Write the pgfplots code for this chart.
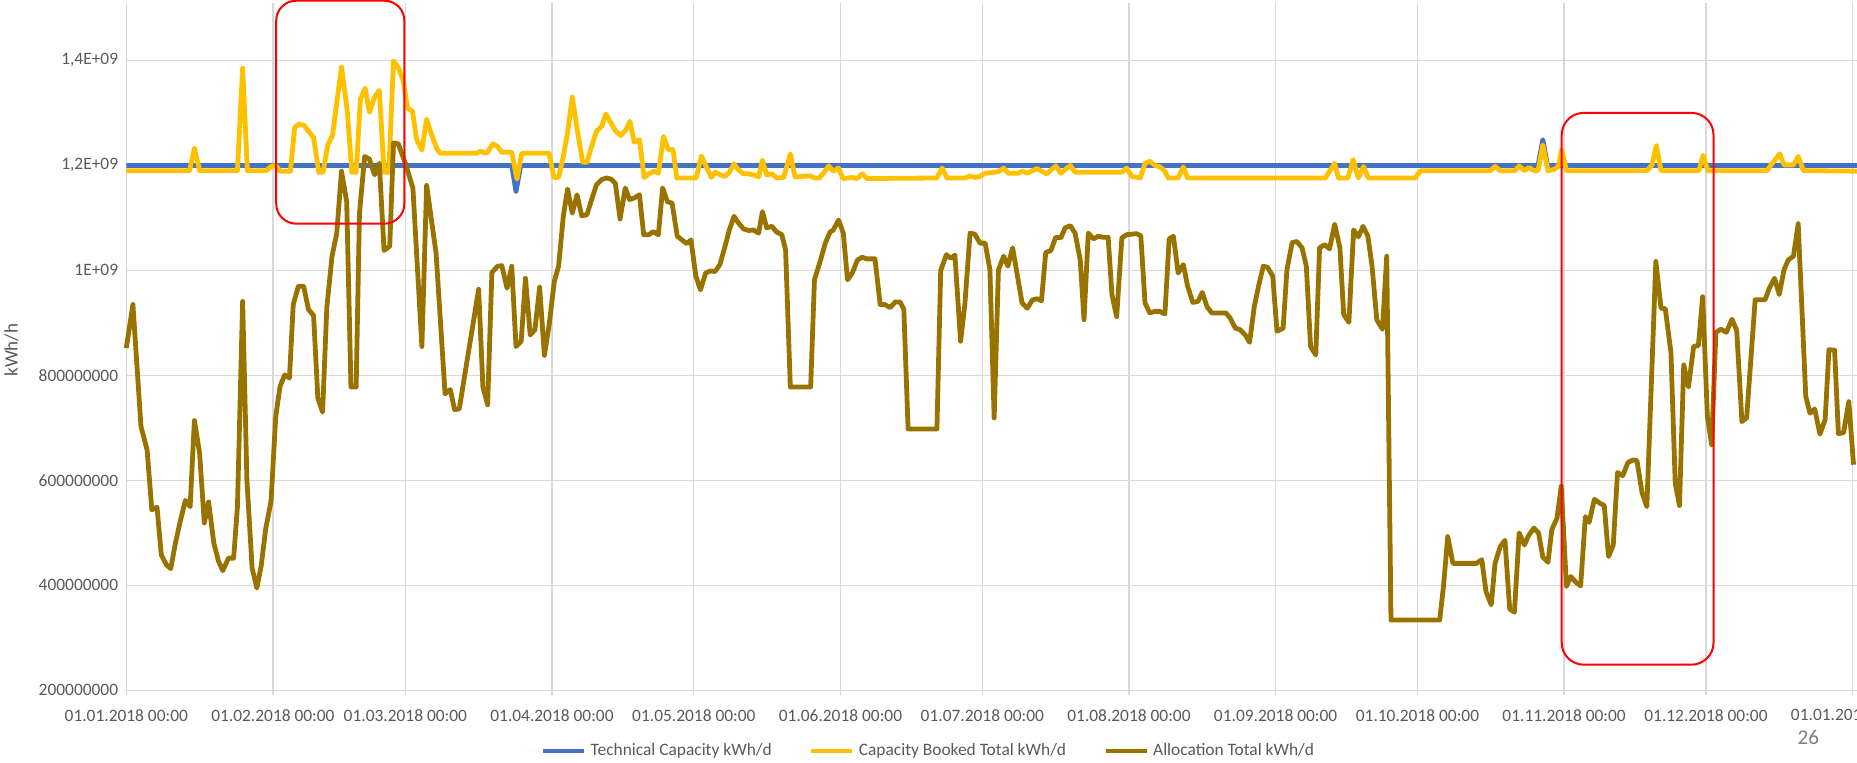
\documentclass[border=0pt]{standalone}
\usepackage{pgfplots}
\pgfplotsset{compat=1.18}
\usepackage{fontspec}
\setmainfont{Carlito}
\definecolor{techblue}{HTML}{4472C4}
\definecolor{bookgold}{HTML}{FFC000}
\definecolor{allocbrown}{HTML}{997300}
\definecolor{gridgray}{HTML}{D9D9D9}
\definecolor{textgray}{HTML}{595959}
\definecolor{pagegray}{HTML}{7F7F7F}

\begin{document}
\begin{tikzpicture}
\begin{axis}[
  at={(0,0)}, anchor=south west,
  scale only axis, width=865.5pt, height=341.25pt,
  xmin=0, xmax=366, ymin=200, ymax=1500,
  clip=false,
  axis line style={draw=none},
  grid=major,
  major grid style={gridgray, line width=0.6pt},
  xtick={0,31,59,90,120,151,181,212,243,273,304,334,365},
  xticklabels={01.01.2018 00:00,01.02.2018 00:00,01.03.2018 00:00,01.04.2018 00:00,01.05.2018 00:00,01.06.2018 00:00,01.07.2018 00:00,01.08.2018 00:00,01.09.2018 00:00,01.10.2018 00:00,01.11.2018 00:00,01.12.2018 00:00,01.01.2019 00:00},
  ytick={200,400,600,800,1000,1200,1400},
  yticklabels={200000000,400000000,600000000,800000000,1E+09,{1,2E+09},{1,4E+09}},
  /pgf/number format/assume math mode=true,
  tick label style={font=\fontsize{8.7}{10}\selectfont, text=textgray},
  xticklabel style={anchor=center, yshift=-9.9pt},
  yticklabel style={anchor=east, inner sep=0pt, xshift=-3.9pt},
  ytick style={draw=none},
  xtick style={gridgray, line width=0.6pt},
  xtick align=outside, major tick length=2.5pt,
  ylabel={kWh/h},
  ylabel style={at={(axis description cs:-0.0664,0.4985)}, anchor=center, font=\fontsize{9.5}{11}\selectfont, text=textgray},
  legend columns=3,
  legend style={draw=none, fill=none, at={(axis description cs:0.464,-0.0888)}, anchor=center,
    font=\fontsize{8.7}{10}\selectfont, text=textgray,
    /tikz/every even column/.append style={column sep=16.6pt}},
  legend image code/.code={\draw[#1] (0pt,0pt) -- (20.5pt,0pt);},
  every axis plot/.append style={line width=2.4pt, line join=round},
]
\addplot[techblue] coordinates {
(0,1200) (81.5,1200) (82.4,1150) (83.4,1200) (298.5,1200) (299.5,1249) (300.5,1200) (366,1200)
};
\addlegendentry{Technical Capacity kWh/d}
\addplot[bookgold] coordinates {
(0,1190) (13.4,1190) (14.4,1233) (15.5,1190) (23.5,1190) (24.6,1385) (25.6,1190) (29.6,1190)
(30.6,1198) (31.6,1200) (32.5,1189) (34.7,1189) (35.6,1272) (36.6,1279) (37.6,1276) (38.7,1263)
(39.6,1253) (40.7,1187) (41.6,1187) (42.6,1239) (43.6,1257) (44.5,1319) (45.5,1387) (46.7,1306)
(47.7,1187) (48.6,1187) (49.5,1326) (50.5,1347) (51.4,1301) (52.5,1330) (53.5,1343) (54.5,1187)
(55.5,1187) (56.5,1399) (57.6,1385) (58.5,1363) (59.5,1309) (60.5,1303) (61.4,1249) (62.5,1229)
(63.5,1288) (64.6,1257) (65.7,1231) (66.4,1223) (74.1,1223) (74.8,1227) (76.2,1223) (77.5,1241)
(78.5,1236) (79.4,1225) (81.5,1225) (82.6,1174) (83.6,1223) (89.4,1223) (90.4,1177) (91.4,1177)
(92.4,1217) (93.3,1262) (94.3,1330) (95.4,1265) (96.5,1206) (97.4,1206) (98.4,1236) (99.4,1265)
(100.5,1274) (101.4,1298) (102.4,1282) (103.5,1265) (104.5,1257) (105.6,1267) (106.5,1284)
(107.4,1244) (108.5,1249) (109.5,1177) (110.5,1184) (111.6,1189) (112.5,1185) (113.6,1255)
(114.6,1230) (115.6,1230) (116.4,1176) (120.5,1176) (121.6,1218) (122.6,1198) (123.7,1177)
(124.5,1187) (125.6,1182) (126.6,1179) (127.5,1187) (128.5,1203) (129.4,1192) (130.5,1184)
(131.6,1184) (132.6,1182) (133.7,1178) (134.5,1210) (135.4,1182) (136.5,1184) (137.5,1176)
(139,1177) (140.4,1222) (141.4,1178) (144.6,1180) (145.5,1176) (146.5,1176) (147.4,1185)
(148.5,1199) (149.5,1189) (150.6,1195) (151.5,1175) (153.5,1177) (154.5,1175) (155.6,1184)
(156.6,1175) (171.4,1176) (172.5,1195) (173.5,1176) (177.4,1176) (178.4,1180) (179.4,1177)
(180.5,1179) (181.6,1185) (183.7,1187) (184.6,1189) (185.5,1195) (186.5,1185) (188.6,1185)
(189.5,1189) (190.5,1185) (192.5,1194) (194.6,1184) (196.5,1199) (197.6,1185) (199.6,1200)
(200.6,1187) (210.5,1187) (211.5,1195) (212.6,1179) (214.4,1176) (215.4,1204) (216.4,1208)
(217.5,1200) (218.6,1197) (219.6,1189) (220.3,1176) (222.4,1176) (223.5,1197) (224.4,1176)
(253.5,1176) (255.5,1204) (256.3,1176) (258.3,1176) (259.4,1211) (260.5,1176) (261.6,1198)
(262.6,1176) (272.5,1176) (273.7,1190) (288.4,1190) (289.4,1198) (290.5,1190) (293.6,1190)
(294.5,1199) (295.6,1190) (296.6,1196) (297.6,1190) (298.5,1190) (299.5,1239) (300.6,1190)
(301.8,1192) (302.8,1198) (303.5,1230) (304.5,1190) (321.5,1190) (322.6,1201) (323.5,1238)
(324.5,1190) (332.5,1190) (333.4,1219) (334.4,1190) (346.9,1190) (348,1204) (349.6,1222)
(350.5,1201) (352.5,1201) (353.5,1217) (354.6,1190) (366,1189)
};
\addlegendentry{Capacity Booked Total kWh/d}
\addplot[allocbrown] coordinates {
(0,852) (1.4,935) (3.1,703) (4.4,658) (5.4,544) (6.5,549) (7.4,458) (8.5,439) (9.4,432)
(10.4,481) (11.4,522) (12.5,562) (13.5,550) (14.4,714) (15.5,652) (16.5,519) (17.4,559)
(18.5,481) (19.5,446) (20.4,428) (21.6,452) (22.7,452) (23.5,550) (24.6,941) (25.5,601)
(26.6,433) (27.6,395) (28.5,436) (29.5,509) (30.6,560) (31.6,722) (32.5,779) (33.5,801)
(34.5,795) (35.3,935) (36.4,970) (37.5,970) (38.5,926) (39.6,914) (40.5,757) (41.5,730)
(42.4,930) (43.5,1027) (44.5,1071) (45.5,1189) (46.6,1131) (47.5,778) (48.6,778) (49.3,1109)
(50.4,1217) (51.4,1212) (52.5,1182) (53.5,1204) (54.5,1038) (55.7,1046) (56.5,1243)
(57.5,1241) (59,1204) (60.6,1157) (62.5,855) (63.5,1162) (65.5,1033) (67.4,765) (68.5,773)
(69.4,735) (70.4,736) (74.5,964) (75.4,778) (76.4,744) (77.3,996) (78.5,1008) (79.4,1009)
(80.5,966) (81.5,1008) (82.4,855) (83.5,865) (84.4,985) (85.4,877) (86.4,887) (87.4,968)
(88.4,838) (89.4,896) (90.5,979) (91.4,1008) (92.4,1103) (93.3,1155) (94.3,1109) (95.3,1144)
(96.3,1104) (97.4,1106) (98.4,1135) (99.4,1163) (100.5,1173) (101.5,1176) (102.5,1174)
(103.4,1166) (104.4,1098) (105.5,1157) (106.4,1135) (107.4,1138) (108.5,1144) (109.4,1068)
(110.5,1068) (111.4,1074) (112.5,1068) (113.4,1157) (114.4,1131) (115.4,1128) (116.5,1065)
(117.5,1058) (118.5,1051) (119.4,1058) (120.4,990) (121.4,963) (122.5,995) (123.5,999)
(124.5,998) (125.5,1011) (126.6,1046) (127.5,1077) (128.5,1103) (129.4,1091) (130.5,1079)
(131.6,1076) (132.6,1077) (133.7,1071) (134.5,1112) (135.4,1081) (136.5,1084) (137.5,1073)
(138.6,1068) (139.4,1039) (140.4,778) (144.7,778) (145.5,982) (146.8,1020) (147.8,1052)
(148.8,1073) (149.5,1077) (150.6,1096) (151.6,1071) (152.5,982) (153.5,995) (154.6,1020)
(155.6,1025) (156.5,1022) (158.3,1022) (159.4,935) (160.4,935) (161.5,929) (162.6,940)
(163.6,940) (164.4,926) (165.3,698) (171.4,698) (172.2,1000) (173.4,1030) (174.3,1023)
(175.2,1029) (176.4,865) (177.3,935) (178.4,1071) (179.4,1069) (180.5,1052) (181.6,1052)
(182.6,1001) (183.5,719) (184.4,1001) (185.5,1027) (186.4,1008) (187.4,1043) (188.5,985)
(189.4,938) (190.5,928) (191.6,944) (192.6,946) (193.5,942) (194.4,1034) (195.5,1038)
(196.5,1063) (197.6,1062) (198.5,1081) (199.6,1085) (200.6,1071) (201.7,1020) (202.5,906)
(203.4,1071) (204.5,1060) (205.5,1065) (206.6,1063) (207.6,1063) (208.4,954) (209.4,912)
(210.5,1062) (211.5,1068) (212.6,1069) (213.6,1070) (214.5,1066) (215.4,938) (216.4,919)
(217.5,922) (218.5,922) (219.6,917) (220.5,1060) (221.4,1065) (222.4,995) (223.5,1011)
(224.4,970) (225.5,939) (226.6,941) (227.5,958) (228.5,931) (229.5,919) (232.5,919)
(233.4,909) (234.5,890) (235.5,887) (236.6,877) (237.5,863) (238.5,931) (239.4,970)
(240.4,1008) (241.3,1006) (242.4,989) (243.3,884) (244.6,890) (245.4,1001) (246.5,1053)
(247.5,1055) (248.6,1043) (249.5,1008) (250.4,855) (251.5,839) (252.3,1043) (253.4,1049)
(254.4,1041) (255.5,1088) (256.6,1043) (257.4,916) (258.5,901) (259.5,1077) (260.5,1064)
(261.5,1084) (262.5,1066) (263.4,1008) (264.4,906) (265.6,888) (266.5,1027) (267.4,334)
(277.7,334) (278.5,398) (279.4,493) (280.5,442) (285.5,442) (286.6,449) (287.5,388)
(288.6,363) (289.4,442) (290.5,474) (291.5,486) (292.5,355) (293.5,349) (294.5,500)
(295.6,477) (296.5,495) (297.6,509) (298.6,500) (299.5,454) (300.6,444) (301.4,506)
(302.5,528) (303.4,589) (304.5,398) (305.4,417) (306.5,406) (307.5,399) (308.5,531)
(309.3,520) (310.4,564) (311.5,557) (312.5,552) (313.4,455) (314.4,477) (315.3,615)
(316.4,609) (317.5,634) (318.6,639) (319.4,638) (320.5,576) (321.5,550) (323.4,1017)
(324.5,928) (325.4,927) (326.6,843) (327.5,595) (328.4,552) (329.3,820) (330.3,778)
(331.4,855) (332.4,857) (333.3,950) (334.3,722) (335.2,668) (336.1,882) (337.2,888)
(338.3,882) (339.5,907) (340.5,886) (341.6,712) (342.6,719) (344.4,944) (346.5,944)
(347.4,966) (348.5,985) (349.5,954) (350.5,1001) (351.4,1020) (352.5,1027) (353.5,1089)
(355.1,760) (356,728) (357,736) (358.1,688) (359.2,716) (360,849) (361.2,848) (362,689)
(363.1,691) (364.2,750) (365.2,630)
};
\addlegendentry{Allocation Total kWh/d}
\draw[red, line width=1pt, rounded corners=10pt] (axis cs:31.7,1513.7) rectangle (axis cs:58.8,1089);
\draw[red, line width=1pt, rounded corners=11pt] (axis cs:303.5,1300) rectangle (axis cs:335.6,249);
\end{axis}
\node[text=pagegray, font=\fontsize{10.5}{12}\selectfont] at (841pt,-23.3pt) {26};
\pgfresetboundingbox
\useasboundingbox (-63.15pt,-35.8pt) rectangle (865.35pt,345.2pt);
\end{tikzpicture}
\end{document}
